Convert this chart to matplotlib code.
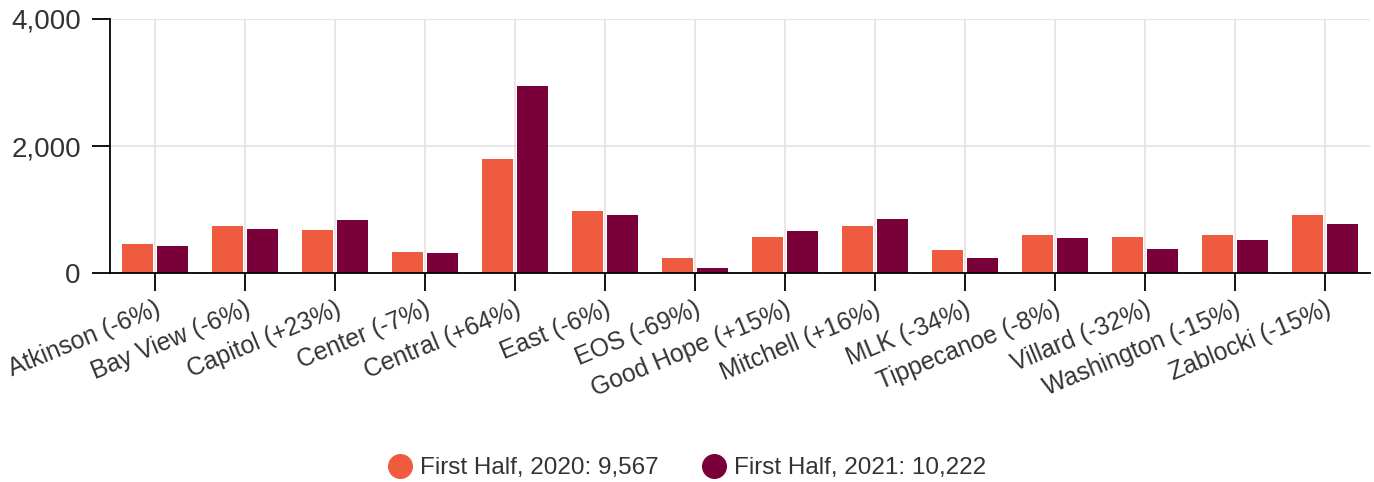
import matplotlib
matplotlib.use("Agg")
import matplotlib.pyplot as plt
from matplotlib.lines import Line2D
import numpy as np

plt.rcParams['font.family'] = ['Liberation Sans', 'DejaVu Sans']

categories = ["Atkinson (-6%)", "Bay View (-6%)", "Capitol (+23%)", "Center (-7%)",
              "Central (+64%)", "East (-6%)", "EOS (-69%)", "Good Hope (+15%)",
              "Mitchell (+16%)", "MLK (-34%)", "Tippecanoe (-8%)", "Villard (-32%)",
              "Washington (-15%)", "Zablocki (-15%)"]
values_2020 = [455, 736, 674, 335, 1800, 970, 230, 570, 740, 355, 600, 560, 605, 915]
values_2021 = [428, 692, 829, 312, 2952, 912, 71, 656, 858, 234, 552, 381, 514, 778]
series_labels = ["First Half, 2020: 9,567", "First Half, 2021: 10,222"]
yticks = [0, 2000, 4000]
ytick_labels = ["0", "2,000", "4,000"]

c2020 = "#EF5B3F"
c2021 = "#7A0039"
text_c = "#333333"

fig = plt.figure(figsize=(13.74, 4.82), dpi=100)
ax = fig.add_axes([110/1374, 1-273/482, 1260/1374, (273-19)/482])

x = np.arange(len(categories))
off = 0.195
w = 0.335
ax.bar(x - off, values_2020, width=w, color=c2020, zorder=3)
ax.bar(x + off, values_2021, width=w, color=c2021, zorder=3)

ax.set_xlim(-0.5, len(categories) - 0.5)
ax.set_ylim(0, 4000)
ax.set_yticks(yticks)
ax.set_yticklabels(ytick_labels, fontsize=20, color=text_c)
ax.set_xticks(x)
ax.set_xticklabels(categories, fontsize=17.8, color=text_c, rotation=22.5,
                   ha='right', va='top', rotation_mode='anchor')

ax.grid(True, color="#e0e0e0", linewidth=1.1, zorder=0)
ax.set_axisbelow(True)
for s in ['top', 'right']:
    ax.spines[s].set_visible(False)
for s in ['left', 'bottom']:
    ax.spines[s].set_color('black')
    ax.spines[s].set_linewidth(1.3)
    ax.spines[s].set_zorder(4)
ax.tick_params(axis='y', length=13, width=1.3, color='black', pad=8)
ax.tick_params(axis='x', length=13, width=1.3, color='black', pad=4.3)

handles = [Line2D([], [], marker='o', linestyle='none', markersize=17, color=c2020),
           Line2D([], [], marker='o', linestyle='none', markersize=17, color=c2021)]
leg = fig.legend(handles, series_labels, loc='center', bbox_to_anchor=(0.5, 1-468/482),
                 ncol=2, frameon=False, fontsize=17.5, handletextpad=0.3,
                 columnspacing=1.8, handlelength=1.0)
for t in leg.get_texts():
    t.set_color(text_c)

fig.savefig("out.png", dpi=100)
